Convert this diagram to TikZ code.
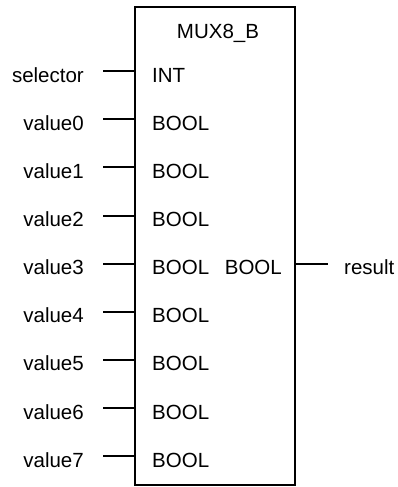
\documentclass[tikz,border=0pt]{standalone}
\usepackage{fontspec}
\setmainfont{Liberation Sans}
\usetikzlibrary{calc}

\begin{document}
\begin{tikzpicture}[x=1pt, y=1pt]
        % ================= 样式定义 =================
        \tikzset{
            % 功能块:白底黑边
            fblock/.style={draw=black, line width=2pt, fill=white, minimum width=160pt, minimum height=478pt, inner sep=0pt},
            % 文字样式
            lbl/.style={inner sep=0pt, font=\fontsize{20.5}{24}\selectfont},
            % 引脚样式
            pin/.style={line width=2pt, black}
        }
        \useasboundingbox (0, 0) rectangle (398, -487);

        % ================= 1. 功能块 =================
        \node[fblock] (fb) at (215, -246) {};
        \node[lbl, anchor=base] (title) at (218, -39) {MUX8\_B};

        % ================= 2. 输入端 =================
        % 外部变量名:右对齐
        \node[lbl, anchor=base east] (sel) at (84, -82) {selector};
        \node[lbl, anchor=base east] (v0) at (84, -130.2) {value0};
        \node[lbl, anchor=base east] (v1) at (84, -178.3) {value1};
        \node[lbl, anchor=base east] (v2) at (84, -226.5) {value2};
        \node[lbl, anchor=base east] (v3) at (84, -274.6) {value3};
        \node[lbl, anchor=base east] (v4) at (84, -322.8) {value4};
        \node[lbl, anchor=base east] (v5) at (84, -370.9) {value5};
        \node[lbl, anchor=base east] (v6) at (84, -419.1) {value6};
        \node[lbl, anchor=base east] (v7) at (84, -467.2) {value7};

        % 块内类型名
        \node[lbl, anchor=base west] (tsel) at (152, -82) {INT};
        \node[lbl, anchor=base west] (t0) at (152, -130.2) {BOOL};
        \node[lbl, anchor=base west] (t1) at (152, -178.3) {BOOL};
        \node[lbl, anchor=base west] (t2) at (152, -226.5) {BOOL};
        \node[lbl, anchor=base west] (t3) at (152, -274.6) {BOOL};
        \node[lbl, anchor=base west] (t4) at (152, -322.8) {BOOL};
        \node[lbl, anchor=base west] (t5) at (152, -370.9) {BOOL};
        \node[lbl, anchor=base west] (t6) at (152, -419.1) {BOOL};
        \node[lbl, anchor=base west] (t7) at (152, -467.2) {BOOL};

        % ================= 3. 输出端 =================
        \node[lbl, anchor=base east] (tout) at (282, -274.6) {BOOL};
        \node[lbl, anchor=base west] (res) at (344, -274.6) {result};

        % ================= 4. 引脚连线 =================
        % 引脚线比文字基线高 11pt
        \draw[pin] ($(sel.base east)+(19, 11)$) -- ($(fb.west |- sel.base)+(0, 11)$);
        \draw[pin] ($(v0.base east)+(19, 11)$) -- ($(fb.west |- v0.base)+(0, 11)$);
        \draw[pin] ($(v1.base east)+(19, 11)$) -- ($(fb.west |- v1.base)+(0, 11)$);
        \draw[pin] ($(v2.base east)+(19, 11)$) -- ($(fb.west |- v2.base)+(0, 11)$);
        \draw[pin] ($(v3.base east)+(19, 11)$) -- ($(fb.west |- v3.base)+(0, 11)$);
        \draw[pin] ($(v4.base east)+(19, 11)$) -- ($(fb.west |- v4.base)+(0, 11)$);
        \draw[pin] ($(v5.base east)+(19, 11)$) -- ($(fb.west |- v5.base)+(0, 11)$);
        \draw[pin] ($(v6.base east)+(19, 11)$) -- ($(fb.west |- v6.base)+(0, 11)$);
        \draw[pin] ($(v7.base east)+(19, 11)$) -- ($(fb.west |- v7.base)+(0, 11)$);

        % 输出引脚
        \draw[pin] ($(fb.east |- res.base)+(0, 11)$) -- ($(res.base west)+(-16, 11)$);

    \end{tikzpicture}
\end{document}
